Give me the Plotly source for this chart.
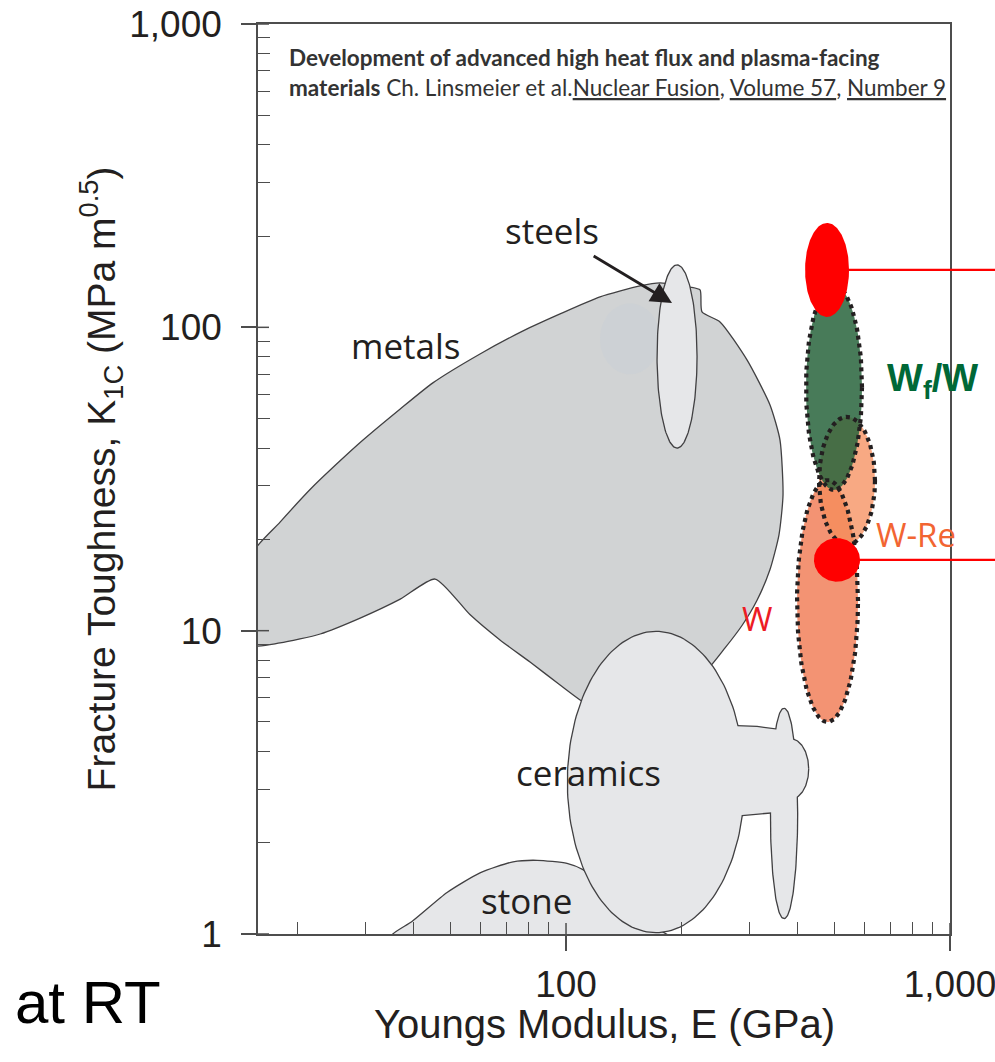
import numpy as np
import plotly.graph_objects as go

# ---------------- data (E in GPa, K1C in MPa m^0.5) ----------------
metals_E = [15.0, 18.0, 21.9, 25.8, 29.6, 37.0, 45.0, 59.7, 77.3, 96.5, 122.6, 155.8, 175.7,
            210.3, 223.4, 226.0, 251.8, 296.0, 339.8, 360.8, 367.4, 358.6, 339.8, 314.4, 287.3, 259.5,
            230.1, 175.7, 122.6, 108.8, 96.5, 80.6, 67.3, 56.2, 45.6, 37.0, 29.1, 22.9, 18.0, 15.0]
metals_K = [17.5, 22.8, 29.8, 36.3, 42.5, 53.8, 65.6, 81.7, 97.3, 110.7, 126.0, 136.9, 140.1,
            135.8, 132.8, 112.4, 104.2, 78.1, 55.5, 42.5, 28.0, 20.7, 15.9, 12.6, 10.4, 8.77,
            7.31, 5.91, 5.40, 5.91, 6.62, 7.88, 9.32, 11.3, 14.8, 12.7, 11.0, 9.75, 9.11, 8.97]

stone_E = [33.8, 35.4, 39.7, 49.0, 59.7, 72.8, 84.1, 100.6, 110.7, 138.2, 175.7, 210.3]
stone_K = [0.886, 1.0, 1.10, 1.37, 1.59, 1.73, 1.75, 1.71, 1.63, 1.29, 1.03, 0.886]

steels_E = [172.6, 219.4]
steels_K = [40.0, 160.6]

metals_spot_E = [122.6, 175.7]
metals_spot_K = [70.0, 120.0]

ceramics_main_E = [101.2, 290.6]
ceramics_main_K = [1.015, 9.90]
ceramics_neck_E = [267.3, 314.4, 356.5, 356.5, 287.3, 267.3]
ceramics_neck_K = [4.85, 4.81, 4.71, 2.53, 2.47, 2.47]
ceramics_bump_E = [344.0, 426.9]
ceramics_bump_K = [2.79, 4.39]
ceramics_thin_E = [341.9, 399.6]
ceramics_thin_K = [1.13, 5.52]

W_E = [399.6, 576.0]
W_K = [5.0, 31.4]
WRe_E = [456.0, 637.8]
WRe_K = [19.2, 50.7]
WfW_E = [421.7, 590.0]
WfW_K = [29.1, 138.0]
red_top_E = [419.3, 545.8]
red_top_K = [108.2, 220.9]
red_bot_E = [442.3, 583.0]
red_bot_K = [14.5, 20.2]

x_tickvals = [100, 1000]
x_ticktext = ["100", "1,000"]
x_minor = [20, 30, 40, 50, 60, 70, 80, 90, 200, 300, 400, 500, 600, 700, 800, 900]
y_tickvals = [1, 10, 100, 1000]
y_ticktext = ["1", "10", "100", "1,000"]
y_minor = [2, 3, 4, 5, 6, 7, 8, 9, 20, 30, 40, 50, 60, 70, 80, 90, 200, 300, 400, 500, 600, 700, 800, 900]

x_title = "Youngs Modulus, E (GPa)"
y_title = "Fracture Toughness, K<sub>1C</sub> (MPa m<sup>0.5</sup>)"

labels = [  # text, E, K, colour, size, font
    ("metals", 38.3, 86.8, "#231f20", 35, "Open Sans"),
    ("ceramics", 114.1, 3.40, "#231f20", 35, "Open Sans"),
    ("stone", 78.7, 1.29, "#231f20", 35, "Open Sans"),
    ("W-Re", 815.5, 20.7, "#f26532", 33, "Open Sans"),
    ("W", 314.4, 11.0, "#ed1c24", 33, "Open Sans"),
    ("<b>W<sub>f</sub>/W</b>", 897.9, 66.6, "#006837", 38, "Liberation Sans"),
]
steels_label = "steels"
steels_arrow_head = (188.8, 120.3)


def ellipse(Er, Kr, n=181):
    lx = np.log10(Er)
    ly = np.log10(Kr)
    cx, rx = lx.mean(), (lx[1] - lx[0]) / 2
    cy, ry = ly.mean(), (ly[1] - ly[0]) / 2
    t = np.linspace(0, 2 * np.pi, n)
    return 10 ** (cx + rx * np.cos(t)), 10 ** (cy + ry * np.sin(t))


def centre(Er, Kr):
    return 10 ** np.log10(Er).mean(), 10 ** np.log10(Kr).mean()


OUTLINE = "#414042"
METAL_FILL = "#d1d3d4"
LIGHT_FILL = "#e6e7e9"
AX = "#4d4d4d"

fig = go.Figure()


def add_shape_trace(x, y, fill=None, line_color=None, line_width=0, dash=None, spline=False):
    line = dict(width=line_width, color=line_color or "rgba(0,0,0,0)")
    if dash:
        line["dash"] = dash
    if spline:
        line["shape"] = "spline"
        line["smoothing"] = 0.6
    fig.add_trace(go.Scatter(
        x=list(x), y=list(y), mode="lines",
        fill="toself" if fill else "none",
        fillcolor=fill if fill else None,
        line=line, hoverinfo="skip", showlegend=False))


# stone
add_shape_trace(stone_E + [stone_E[0]], stone_K + [stone_K[0]], fill=LIGHT_FILL,
                line_color=OUTLINE, line_width=1.3, spline=True)
# metals
add_shape_trace(metals_E + [metals_E[0]], metals_K + [metals_K[0]], fill=METAL_FILL,
                line_color=OUTLINE, line_width=1.3, spline=True)
sx, sy = ellipse(metals_spot_E, metals_spot_K)
add_shape_trace(sx, sy, fill="rgba(196,204,216,0.3)")
# steels
sx, sy = ellipse(steels_E, steels_K)
add_shape_trace(sx, sy, fill=LIGHT_FILL, line_color=OUTLINE, line_width=1.3)

# ceramics: union of pieces (outline first, then fill over it)
cer_pieces = [ellipse(ceramics_main_E, ceramics_main_K),
              (ceramics_neck_E + [ceramics_neck_E[0]], ceramics_neck_K + [ceramics_neck_K[0]]),
              ellipse(ceramics_bump_E, ceramics_bump_K),
              ellipse(ceramics_thin_E, ceramics_thin_K)]
for px, py in cer_pieces:
    add_shape_trace(px, py, line_color=OUTLINE, line_width=2.6)
for px, py in cer_pieces:
    add_shape_trace(px, py, fill=LIGHT_FILL)

# tungsten materials
w_regions = [(W_E, W_K, "rgba(240,120,80,0.80)"),
             (WRe_E, WRe_K, "rgba(245,140,90,0.75)"),
             (WfW_E, WfW_K, "rgba(40,100,60,0.85)")]
for Er, Kr, col in w_regions:
    px, py = ellipse(Er, Kr)
    add_shape_trace(px, py, fill=col)
for Er, Kr, col in w_regions:
    px, py = ellipse(Er, Kr)
    add_shape_trace(px, py, line_color="#231f20", line_width=4.2, dash="4px,4px")

for Er, Kr in [(red_top_E, red_top_K), (red_bot_E, red_bot_K)]:
    px, py = ellipse(Er, Kr)
    add_shape_trace(px, py, fill="#ff0000")

xr = [np.log10(15.77), 3]
yr = [0, 3]

annotations = []
for text, E, K, col, size, fam in labels:
    annotations.append(dict(x=np.log10(E), y=np.log10(K), xref="x", yref="y", text=text,
                            showarrow=False, font=dict(family=fam, size=size, color=col)))

# steels label with arrow
annotations.append(dict(x=np.log10(steels_arrow_head[0]), y=np.log10(steels_arrow_head[1]),
                        xref="x", yref="y", text=steels_label, showarrow=True, arrowhead=2,
                        arrowsize=1.5, arrowwidth=2.8, arrowcolor="#231f20",
                        ax=-120, ay=-72, standoff=0,
                        font=dict(family="Open Sans", size=35, color="#231f20")))

shapes = []
# red lines running out to the right edge
for Er, Kr in [(red_top_E, red_top_K), (red_bot_E, red_bot_K)]:
    cx, cy = centre(Er, Kr)
    x0 = (np.log10(cx) - xr[0]) / (xr[1] - xr[0])
    shapes.append(dict(type="line", xref="paper", yref="y", x0=x0, x1=1.2, y0=cy, y1=cy,
                       line=dict(color="#ff0000", width=2.2), layer="above"))
# inner half of the major ticks (ticks cross the axis line)
for v in x_tickvals:
    shapes.append(dict(type="line", xref="x", yref="y domain", x0=v, x1=v, y0=0, y1=11 / 910,
                       line=dict(color=AX, width=1.5)))
for v in y_tickvals:
    shapes.append(dict(type="line", xref="x domain", yref="y", x0=0, x1=11 / 692, y0=v, y1=v,
                       line=dict(color=AX, width=1.5)))

cite_font = dict(family="Lato", size=22.5, color="#333333")
annotations.append(dict(x=0.042, y=0.9637, xref="paper", yref="paper", xanchor="left",
                        yanchor="middle", showarrow=False, font=cite_font,
                        text="<b>Development of advanced high heat flux and plasma-facing</b>"))
ul = "text-decoration:underline"
annotations.append(dict(x=0.042, y=0.9297, xref="paper", yref="paper", xanchor="left",
                        yanchor="middle", showarrow=False, font=cite_font,
                        text=("<b>materials</b> Ch. Linsmeier et al."
                              f"<span style='{ul}'>Nuclear Fusion</span>, "
                              f"<span style='{ul}'>Volume 57</span>, "
                              f"<span style='{ul}'>Number 9</span>")))
annotations.append(dict(x=-0.2457, y=-0.0758, xref="paper", yref="paper", showarrow=False,
                        xanchor="center", yanchor="middle", text="at RT",
                        font=dict(family="Liberation Sans", size=60, color="#000000")))
# x-axis title (placed as paper annotation for exact position)
annotations.append(dict(x=0.5, y=-0.0985, xref="paper", yref="paper", showarrow=False,
                        xanchor="center", yanchor="middle", text=x_title,
                        font=dict(family="Liberation Sans", size=40, color="#231f20")))

TICKFONT = dict(family="Liberation Sans", size=37, color="#231f20")

fig.update_layout(
    width=995, height=1062,
    margin=dict(l=258, r=45, t=24, b=128, autoexpand=False),
    paper_bgcolor="white", plot_bgcolor="white",
    showlegend=False,
    annotations=annotations,
    shapes=shapes,
    xaxis=dict(type="log", range=xr, showgrid=False, zeroline=False, automargin=False,
               showline=True, linecolor=AX, linewidth=1.5, mirror=True,
               ticks="outside", ticklen=15, tickwidth=1.5, tickcolor=AX,
               tickvals=x_tickvals, ticktext=x_ticktext, tickfont=TICKFONT,
               ticklabelstandoff=2, ticklabeloverflow="allow",
               minor=dict(tickvals=x_minor, ticks="inside", ticklen=12, tickwidth=1.3,
                          tickcolor=AX, showgrid=False)),
    yaxis=dict(type="log", range=yr, showgrid=False, zeroline=False, automargin=False,
               showline=True, linecolor=AX, linewidth=1.5, mirror=True,
               ticks="outside", ticklen=15, tickwidth=1.5, tickcolor=AX,
               tickvals=y_tickvals, ticktext=y_ticktext, tickfont=TICKFONT,
               ticklabelstandoff=12, ticklabeloverflow="allow",
               minor=dict(tickvals=y_minor, ticks="inside", ticklen=12, tickwidth=1.3,
                          tickcolor=AX, showgrid=False),
               title=dict(text=y_title, standoff=2,
                          font=dict(family="Liberation Sans", size=39, color="#231f20"))),
)

fig.write_html("out.html")
